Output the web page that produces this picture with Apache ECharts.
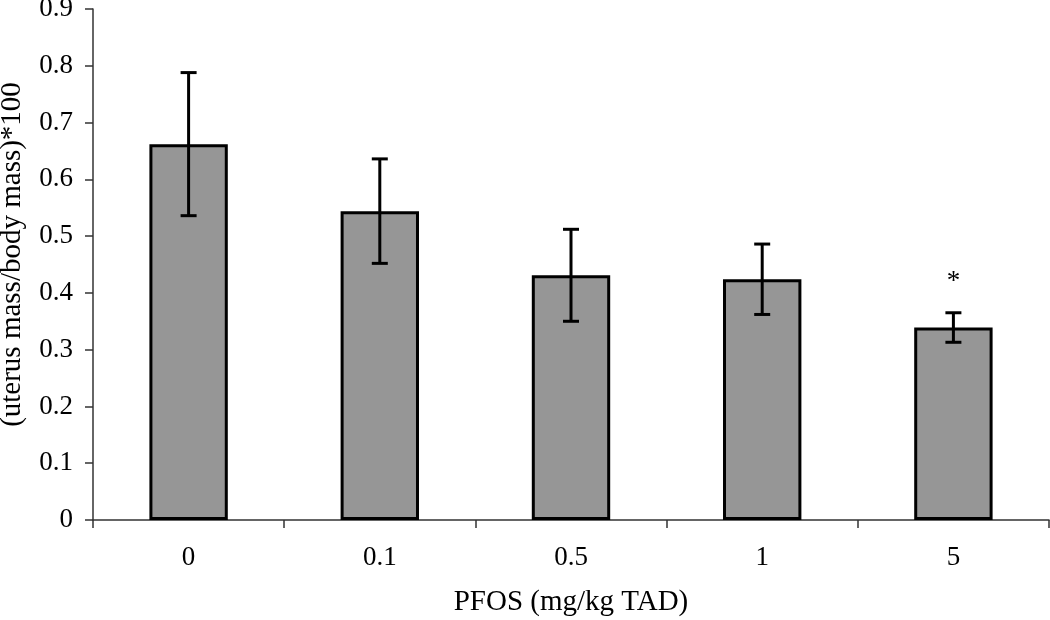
<!DOCTYPE html>
<html>
<head>
<meta charset="utf-8">
<script src="https://cdn.jsdelivr.net/npm/echarts@6/dist/echarts.min.js"></script>
<style>html,body{margin:0;padding:0;background:#fff;}#c{width:1050px;height:620px;}</style>
</head>
<body>
<div id="c"></div>
<script>
const categories = ['0', '0.1', '0.5', '1', '5'];
const means = [0.662, 0.544, 0.431, 0.424, 0.339];
const errors = [0.126, 0.092, 0.081, 0.062, 0.026];
const significance = ['', '', '', '', '*'];
const yTicks = [0, 0.1, 0.2, 0.3, 0.4, 0.5, 0.6, 0.7, 0.8, 0.9];

const font = '"Liberation Serif", "Times New Roman", serif';
const chart = echarts.init(document.getElementById('c'));
const errData = means.map((m, i) => [i, m - errors[i], m + errors[i], significance[i]]);

chart.setOption({
  animation: false,
  backgroundColor: '#fff',
  grid: { left: 93, right: 1, top: 9, bottom: 100, containLabel: false, outerBoundsMode: 'none' },
  xAxis: {
    type: 'category',
    data: categories,
    name: 'PFOS (mg/kg TAD)',
    nameLocation: 'middle',
    nameGap: 68,
    nameTextStyle: { fontFamily: font, fontSize: 29, color: '#000' },
    axisLine: { lineStyle: { color: '#333', width: 1.5 } },
    axisTick: { show: true, alignWithLabel: false, length: 8, lineStyle: { color: '#333', width: 1.5 } },
    axisLabel: { fontFamily: font, fontSize: 27, color: '#000', margin: 24 },
    splitLine: { show: false }
  },
  yAxis: {
    type: 'value',
    min: 0,
    max: 0.9,
    interval: 0.1,
    name: '(uterus mass/body mass)*100',
    nameLocation: 'middle',
    nameGap: 66,
    nameTextStyle: { fontFamily: font, fontSize: 29, color: '#000', padding: [0, 0, 0, 20] },
    axisLine: { show: true, lineStyle: { color: '#333', width: 1.5 } },
    axisTick: { show: true, length: 8, inside: false, lineStyle: { color: '#333', width: 1.5 } },
    axisLabel: {
      fontFamily: font, fontSize: 27, color: '#000', margin: 20,
      formatter: v => { const t = yTicks.find(x => Math.abs(x - v) < 1e-9); return t === undefined ? '' : String(t); }
    },
    splitLine: { show: false }
  },
  series: [
    {
      type: 'bar',
      data: means,
      barWidth: '41%',
      itemStyle: { color: '#969696', borderColor: '#000', borderWidth: 3 },
      z: 2
    },
    {
      type: 'custom',
      data: errData,
      z: 3,
      renderItem: function (params, api) {
        const x = api.value(0);
        const lo = api.coord([x, api.value(1)]);
        const hi = api.coord([x, api.value(2)]);
        const hw = 8;
        const style = { stroke: '#000', lineWidth: 3 };
        const children = [
          { type: 'line', shape: { x1: hi[0], y1: hi[1], x2: lo[0], y2: lo[1] }, style },
          { type: 'line', shape: { x1: hi[0] - hw, y1: hi[1], x2: hi[0] + hw, y2: hi[1] }, style },
          { type: 'line', shape: { x1: lo[0] - hw, y1: lo[1], x2: lo[0] + hw, y2: lo[1] }, style }
        ];
        const s = api.value(3);
        if (s) {
          children.push({
            type: 'text',
            style: { text: s, x: hi[0], y: hi[1] - 31, textAlign: 'center', textVerticalAlign: 'middle',
              font: '27px ' + font, fill: '#000' }
          });
        }
        return { type: 'group', children };
      }
    }
  ]
});
</script>
</body>
</html>
